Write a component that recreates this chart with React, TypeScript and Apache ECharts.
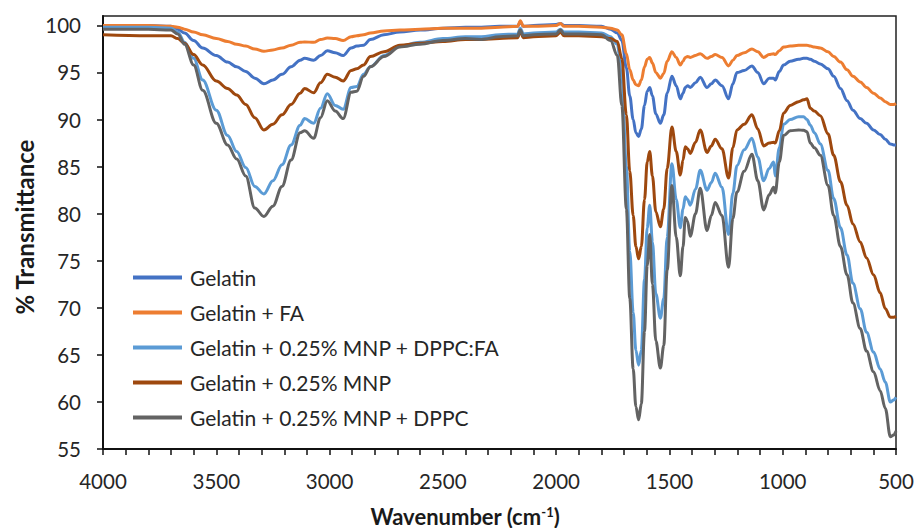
import React, { useEffect, useRef } from "react";
import * as echarts from "echarts";

const wavenumbers = [
  4000, 3800, 3700, 3670, 3640, 3600, 3560, 3500, 3450, 3410,
  3370, 3330, 3290, 3250, 3210, 3170, 3130, 3110, 3070, 3040,
  3010, 2975, 2940, 2905, 2880, 2850, 2820, 2760, 2690, 2600,
  2500, 2400, 2330, 2250, 2170, 2158, 2145, 2100, 2000, 1981,
  1965, 1900, 1800, 1760, 1730, 1710, 1690, 1675, 1660, 1648,
  1636, 1624, 1610, 1598, 1587, 1575, 1560, 1540, 1525, 1510,
  1489, 1470, 1452, 1440, 1430, 1420, 1408, 1385, 1364, 1334,
  1315, 1298, 1268, 1239, 1220, 1202, 1170, 1136, 1110, 1084,
  1060, 1040, 1033, 1015, 996, 967, 930, 908, 893, 878,
  860, 834, 800, 775, 745, 716, 690, 658, 630, 599,
  570, 547, 525, 510, 500,
];

const gelatin = [
  100.0, 100.0, 99.9, 99.6, 99.2, 98.4, 97.6, 96.8, 96.1, 95.6,
  95.1, 94.4, 93.8, 94.2, 94.8, 95.6, 96.3, 96.5, 96.3, 96.8,
  97.3, 97.1, 96.8, 97.6, 97.8, 97.9, 98.5, 99.0, 99.3, 99.5,
  99.7, 99.8, 99.8, 99.9, 99.9, 100.4, 99.9, 100.0, 100.1, 100.2,
  100.0, 100.0, 99.9, 99.6, 99.2, 98.4, 95.5, 92.5, 90.0, 88.6,
  88.2, 89.0, 91.5, 93.0, 93.4, 92.5, 90.6, 89.6, 90.5, 92.8,
  94.6, 93.6, 92.2, 92.8, 93.4, 93.6, 93.4, 93.9, 94.5, 93.4,
  93.8, 94.2, 93.6, 92.2, 93.8, 95.0, 95.2, 95.7, 95.0, 93.8,
  94.4, 94.4, 94.2, 95.1, 95.8, 96.2, 96.4, 96.5, 96.5, 96.4,
  96.2, 95.9, 95.4, 94.6, 93.3, 92.0, 91.0, 90.1, 89.6, 88.9,
  88.4, 87.9, 87.4, 87.3, 87.3,
];

const gelatinFA = [
  100.0, 100.0, 99.9, 99.8, 99.6, 99.3, 99.0, 98.6, 98.3, 98.0,
  97.8, 97.5, 97.25, 97.4, 97.6, 97.9, 98.2, 98.25, 98.2, 98.5,
  98.65, 98.6, 98.4, 98.8, 98.9, 99.0, 99.2, 99.4, 99.5, 99.6,
  99.7, 99.7, 99.7, 99.8, 99.9, 100.5, 99.9, 99.9, 100.0, 100.2,
  99.9, 99.9, 99.8, 99.7, 99.5, 99.0, 97.0, 95.3, 94.2, 93.7,
  93.6, 94.2, 95.6, 96.4, 96.6, 96.0, 95.0, 94.4, 94.9, 96.2,
  97.2, 96.6, 95.8, 96.2, 96.6, 96.7, 96.6, 96.8, 97.0, 96.5,
  96.7, 96.9, 96.6, 95.7, 96.3, 96.8, 97.1, 97.5, 97.2, 96.6,
  96.9, 97.0, 96.9, 97.3, 97.7, 97.8, 97.9, 97.9, 97.9, 97.8,
  97.7, 97.6, 97.2, 96.7, 96.1, 95.3, 94.6, 94.0, 93.4, 92.8,
  92.3, 91.9, 91.6, 91.6, 91.7,
];

const mnpDppcFA = [
  99.8, 99.8, 99.7, 99.3, 98.2, 96.5, 94.2, 91.0, 88.3, 86.6,
  84.9, 82.9, 82.1, 83.5, 85.2, 87.3, 89.4, 90.1, 89.6, 91.2,
  92.75, 91.5, 91.1, 93.4, 93.5, 94.8, 95.6, 96.8, 97.8, 98.2,
  98.6, 98.8, 98.8, 99.0, 99.1, 99.7, 99.1, 99.2, 99.3, 99.6,
  99.3, 99.3, 99.2, 98.8, 98.0, 94.5, 85.0, 76.0, 69.5, 65.5,
  63.9, 65.5, 73.0, 78.5, 80.9, 77.0, 71.5, 68.9, 71.0, 77.5,
  85.3, 81.5, 78.5, 80.5, 81.8, 81.5, 80.9, 82.6, 84.6, 82.5,
  83.3, 84.3, 82.8, 77.8, 82.2, 85.1, 86.8, 88.0, 86.0, 83.5,
  84.8, 85.5, 84.0, 87.0, 89.5, 90.0, 90.3, 90.3, 90.0, 89.4,
  88.6, 87.4, 84.6, 81.6, 78.5, 75.6, 72.6, 69.9, 67.4, 65.3,
  63.5, 62.1, 60.0, 60.2, 60.5,
];

const mnp = [
  99.0, 98.9, 98.9, 98.6, 98.1, 96.9, 95.8, 94.1, 93.3, 92.6,
  91.6, 90.2, 88.9, 89.5, 90.5, 91.6, 92.8, 93.3, 92.85, 93.9,
  94.8, 94.5, 94.1, 95.2, 95.4, 95.8, 96.7, 97.2, 97.9, 98.1,
  98.3, 98.5, 98.5, 98.6, 98.7, 99.4, 98.7, 98.8, 98.9, 99.3,
  98.9, 98.9, 98.8, 98.6, 98.3, 96.5, 90.5, 84.5, 79.8, 76.5,
  75.2, 76.5, 81.5, 85.5, 86.6, 84.0, 80.2, 78.6, 80.5, 84.8,
  89.2, 86.6, 84.1, 85.7, 87.1, 86.9, 86.4, 87.6, 88.9, 86.5,
  87.2, 87.9, 86.9, 83.8, 87.0, 88.9, 89.5, 90.5, 89.0, 87.2,
  87.5, 87.6, 87.5, 88.8, 90.7, 91.5, 91.9, 92.1, 92.2, 91.2,
  90.9, 90.4, 88.5, 86.2, 83.4, 80.9, 78.9, 77.0, 75.3, 73.5,
  71.6, 69.9, 69.0, 69.0, 69.1,
];

const mnpDppc = [
  99.6, 99.6, 99.5, 99.1, 98.0, 95.8, 93.1, 89.6, 87.3, 85.8,
  84.0, 80.6, 79.7, 80.8, 82.9, 85.7, 88.6, 88.8, 88.0, 90.2,
  92.0, 90.9, 90.1, 92.9, 93.0, 94.6, 95.6, 96.7, 97.7, 98.0,
  98.4, 98.6, 98.5, 98.8, 98.9, 99.5, 98.9, 99.0, 99.1, 99.5,
  99.1, 99.1, 99.0, 98.4, 96.8, 91.5, 80.5, 71.0, 63.5, 59.5,
  58.1, 59.8, 67.5, 74.5, 77.8, 72.5, 66.5, 63.6, 66.0, 74.0,
  83.0, 77.5, 73.4, 76.5, 79.6, 79.2, 77.6, 80.0, 82.7, 78.2,
  79.8, 81.2, 79.8, 74.3, 79.5, 82.3, 84.5, 86.3, 83.5, 80.4,
  82.0, 82.8, 82.2, 85.5, 88.3, 88.8, 88.9, 88.85, 88.7, 87.5,
  87.0, 86.2, 83.0, 79.8, 76.5, 73.5, 70.5, 67.8, 65.4, 63.2,
  61.2, 59.3, 56.3, 56.5, 56.9,
];

const seriesNames = [
  "Gelatin",
  "Gelatin + FA",
  "Gelatin + 0.25% MNP + DPPC:FA",
  "Gelatin + 0.25% MNP",
  "Gelatin + 0.25% MNP + DPPC",
];
const seriesValues = [gelatin, gelatinFA, mnpDppcFA, mnp, mnpDppc];
const seriesColors = ["#4472C4", "#ED7D31", "#5B9BD5", "#9E480E", "#636363"];

const yTicks = [55, 60, 65, 70, 75, 80, 85, 90, 95, 100];
const xTicks = [4000, 3500, 3000, 2500, 2000, 1500, 1000, 500];

const xTitle = "Wavenumber (cm";
const xTitleSup = "-1";
const yTitle = "% Transmittance";

const FONT = "Lato";

export default function App() {
  const ref = useRef<HTMLDivElement>(null);

  useEffect(() => {
    document.body.style.margin = "0";
    if (!ref.current) return;
    const chart = echarts.init(ref.current, undefined, { renderer: "svg" });
    chart.setOption({
      animation: false,
      backgroundColor: "#ffffff",
      grid: {
        left: 103,
        right: 19,
        top: 16,
        bottom: 79,
        show: true,
        borderColor: "#222",
        borderWidth: 1.5,
        containLabel: false,
        outerBoundsMode: "none",
      },
      legend: {
        orient: "vertical",
        left: 133,
        top: 266,
        padding: 0,
        itemWidth: 49,
        itemHeight: 4,
        itemGap: 12,
        icon: "rect",
        data: seriesNames,
        textStyle: {
          fontFamily: FONT,
          fontSize: 21,
          color: "#262626",
          padding: [0, 0, 0, 3],
          lineHeight: 23,
        },
      },
      graphic: [
        {
          type: "text",
          x: 24,
          y: 227,
          rotation: Math.PI / 2,
          silent: true,
          style: {
            text: yTitle,
            fontFamily: FONT,
            fontSize: 24,
            fontWeight: "bold",
            fill: "#1a1a1a",
            align: "center",
            verticalAlign: "middle",
          },
        },
        {
          type: "text",
          x: 465,
          y: 516,
          silent: true,
          style: {
            text: xTitle + "{sup|" + xTitleSup + "})",
            fontFamily: FONT,
            fontSize: 22,
            fontWeight: "bold",
            fill: "#1a1a1a",
            align: "center",
            verticalAlign: "middle",
            rich: {
              sup: {
                fontFamily: FONT,
                fontSize: 13,
                fontWeight: "bold",
                fill: "#1a1a1a",
                verticalAlign: "top",
              },
            },
          },
        },
      ],
      xAxis: {
        type: "value",
        min: 500,
        max: 4000,
        interval: 500,
        inverse: true,
        splitLine: { show: false },
        axisLine: { show: true, lineStyle: { color: "#111", width: 2 } },
        axisTick: {
          show: true,
          length: 6,
          lineStyle: { color: "#111", width: 1.5 },
          customValues: xTicks,
        },
        minorTick: {
          show: true,
          splitNumber: 5,
          length: 6,
          lineStyle: { color: "#111", width: 1.5 },
        },
        axisLabel: {
          fontFamily: FONT,
          fontSize: 20.5,
          color: "#262626",
          margin: 21,
          customValues: xTicks,
          formatter: (v: number) => String(v),
        },
      },
      yAxis: {
        type: "value",
        min: 55,
        max: 101,
        interval: 5,
        splitLine: { show: false },
        axisLine: { show: true, lineStyle: { color: "#111", width: 2 } },
        axisTick: {
          show: true,
          length: 6,
          lineStyle: { color: "#111", width: 1.5 },
          customValues: yTicks,
        },
        axisLabel: {
          fontFamily: FONT,
          fontSize: 20.5,
          color: "#262626",
          margin: 22,
          customValues: yTicks,
          formatter: (v: number) => String(v),
        },
      },
      series: seriesNames.map((name, s) => ({
        name,
        type: "line",
        data: wavenumbers.map((w, i) => [w, seriesValues[s][i]]),
        showSymbol: false,
        symbol: "none",
        smooth: 0.35,
        smoothMonotone: "x",
        lineStyle: { color: seriesColors[s], width: 3 },
        itemStyle: { color: seriesColors[s] },
        z: 2 + s,
      })),
    });
    return () => chart.dispose();
  }, []);

  return <div ref={ref} style={{ width: 915, height: 528 }} />;
}
